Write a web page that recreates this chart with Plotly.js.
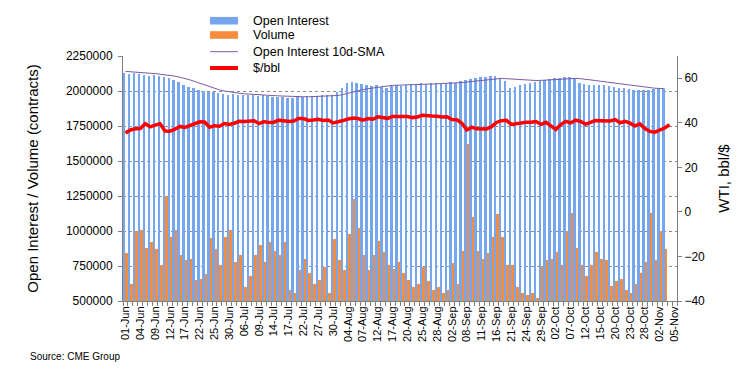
<!DOCTYPE html>
<html>
<head>
<meta charset="utf-8">
<script src="https://cdn.plot.ly/plotly-3.0.1.min.js"></script>
<style>
html,body{margin:0;padding:0;background:#fff;}
#chart{width:755px;height:375px;}
</style>
</head>
<body>
<div id="chart"></div>
<script>
// Category labels (trading days)
var dates = [
 "01-Jun","02-Jun","03-Jun","04-Jun","05-Jun","08-Jun","09-Jun","10-Jun","11-Jun","12-Jun","15-Jun","16-Jun","17-Jun","18-Jun","19-Jun","22-Jun","23-Jun","24-Jun","25-Jun","26-Jun","29-Jun","30-Jun",
 "01-Jul","02-Jul","06-Jul","07-Jul","08-Jul","09-Jul","10-Jul","13-Jul","14-Jul","15-Jul","16-Jul","17-Jul","20-Jul","21-Jul","22-Jul","23-Jul","24-Jul","27-Jul","28-Jul","29-Jul","30-Jul","31-Jul",
 "03-Aug","04-Aug","05-Aug","06-Aug","07-Aug","10-Aug","11-Aug","12-Aug","13-Aug","14-Aug","17-Aug","18-Aug","19-Aug","20-Aug","21-Aug","24-Aug","25-Aug","26-Aug","27-Aug","28-Aug","31-Aug",
 "01-Sep","02-Sep","03-Sep","04-Sep","08-Sep","09-Sep","10-Sep","11-Sep","14-Sep","15-Sep","16-Sep","17-Sep","18-Sep","21-Sep","22-Sep","23-Sep","24-Sep","25-Sep","28-Sep","29-Sep","30-Sep",
 "01-Oct","02-Oct","05-Oct","06-Oct","07-Oct","08-Oct","09-Oct","12-Oct","13-Oct","14-Oct","15-Oct","16-Oct","19-Oct","20-Oct","21-Oct","22-Oct","23-Oct","26-Oct","27-Oct","28-Oct","29-Oct","30-Oct",
 "02-Nov","03-Nov","04-Nov","05-Nov"
];

// Open interest (contracts)
var openInterest = [
 2130000,2125000,2128000,2120000,2115000,2110000,2112000,2105000,2100000,2095000,2080000,2065000,2040000,2030000,2020000,2005000,2000000,1995000,1990000,1985000,1980000,1975000,
 1980000,1975000,1970000,1968000,1972000,1965000,1970000,1962000,1958000,1955000,1960000,1952000,1950000,1955000,1958000,1962000,1960000,1965000,1970000,1968000,1975000,1990000,
 2020000,2055000,2062000,2058000,2048000,2042000,2035000,2040000,2030000,2025000,2038000,2040000,2035000,2045000,2050000,2048000,2055000,2050000,2060000,2058000,2052000,
 2060000,2062000,2058000,2070000,2080000,2085000,2090000,2098000,2102000,2108000,2104000,2092000,2070000,2022000,2030000,2040000,2050000,2060000,2065000,2075000,2080000,
 2085000,2090000,2095000,2098000,2100000,2090000,2055000,2048000,2045000,2040000,2045000,2040000,2035000,2030000,2025000,2020000,2015000,2010000,2008000,2005000,2010000,2015000,
 2020000,2015000
];

// Volume (contracts)
var volume = [
 840000,620000,1000000,1010000,880000,920000,870000,760000,1250000,960000,1010000,830000,790000,800000,650000,660000,690000,950000,870000,760000,960000,1010000,
 780000,830000,600000,680000,830000,900000,780000,920000,860000,830000,920000,580000,560000,720000,800000,700000,620000,650000,740000,560000,940000,790000,
 720000,980000,1230000,1020000,830000,720000,830000,930000,850000,760000,730000,780000,700000,650000,600000,620000,740000,640000,580000,600000,560000,
 580000,770000,620000,860000,1620000,1100000,860000,800000,840000,960000,1120000,960000,760000,760000,600000,560000,540000,560000,520000,750000,790000,
 800000,850000,760000,1000000,1130000,880000,760000,680000,760000,850000,800000,790000,610000,640000,660000,580000,560000,620000,700000,780000,1130000,790000,
 1000000,870000
];

// Open interest 10-day simple moving average (contracts)
var oiSMA = [
 2140000,2138000,2136000,2133000,2130000,2127000,2124000,2120000,2116000,2112000,2106000,2098000,2090000,2080000,2068000,2055000,2042000,2030000,2018000,2008000,2000000,1993000,
 1988000,1984000,1980000,1977000,1975000,1973000,1971000,1969000,1967000,1965000,1963000,1961000,1960000,1959000,1959000,1959000,1960000,1961000,1962000,1963000,1965000,1968000,
 1975000,1985000,1995000,2003000,2010000,2016000,2022000,2028000,2032000,2036000,2040000,2042000,2044000,2045000,2046000,2047000,2048000,2049000,2050000,2051000,2052000,
 2053000,2055000,2057000,2060000,2064000,2068000,2072000,2076000,2080000,2084000,2088000,2090000,2088000,2085000,2082000,2080000,2078000,2076000,2075000,2076000,2078000,
 2080000,2083000,2086000,2088000,2090000,2090000,2088000,2085000,2080000,2075000,2070000,2065000,2060000,2055000,2050000,2045000,2040000,2035000,2030000,2026000,2022000,2020000,
 2018000,2016000
];

// WTI price, $/bbl
var wti = [
 35.44,36.81,37.29,37.41,39.55,38.19,38.94,39.60,36.34,36.26,37.12,38.38,37.96,38.84,39.75,40.46,40.37,38.01,38.72,38.49,39.70,39.27,
 39.82,40.65,40.63,40.62,40.90,39.62,40.55,40.10,40.29,41.20,40.75,40.59,40.81,41.96,41.90,41.07,41.29,41.60,41.04,41.27,39.92,40.27,
 41.01,41.70,42.19,41.95,41.22,41.94,41.61,42.67,42.24,42.01,42.89,42.89,42.93,42.82,42.34,42.62,43.35,43.39,43.04,42.97,42.61,
 42.76,41.51,41.37,39.77,36.76,38.05,37.30,37.33,37.26,38.28,40.16,40.97,41.11,39.31,39.80,39.93,40.31,40.25,40.60,39.29,40.22,
 38.72,37.05,39.22,40.67,39.95,41.19,40.60,39.43,40.20,41.04,40.96,40.88,40.83,41.46,40.03,40.64,39.85,38.56,39.57,37.39,36.17,35.79,
 36.81,37.66,39.15
];

var seriesNames = ["Open Interest","Volume","Open Interest 10d-SMA","$/bbl"];
var seriesColors = ["#76a6ed","#f68c3c","#7b5aa6","#ff0000"];
var leftTicks = [500000,750000,1000000,1250000,1500000,1750000,2000000,2250000];
var rightTicks = [-40,-20,0,20,40,60];

var idx = dates.map(function(d,i){return i;});
var tickIdx = idx.filter(function(i){return i % 3 === 0;});
var tickTxt = tickIdx.map(function(i){return dates[i];});

var FONT = "Liberation Sans, Arial, Helvetica, sans-serif";

var traces = [
 {type:"bar", name:seriesNames[0], x:idx.slice(0, openInterest.length), y:openInterest,
  marker:{color:seriesColors[0], line:{width:0}}, yaxis:"y", showlegend:false},
 {type:"bar", name:seriesNames[1], x:idx.slice(0, volume.length), y:volume,
  marker:{color:seriesColors[1], line:{width:0}}, yaxis:"y", showlegend:false},
 {type:"scatter", mode:"lines", name:seriesNames[2], x:idx.slice(0, oiSMA.length), y:oiSMA,
  line:{color:seriesColors[2], width:1}, yaxis:"y", showlegend:false},
 {type:"scatter", mode:"lines", name:seriesNames[3], x:idx.slice(0, wti.length), y:wti,
  line:{color:seriesColors[3], width:3.5}, yaxis:"y2", showlegend:false}
];

// Legend box (drawn as layout shapes + annotations, in paper coordinates)
var legX0 = 0.157, legX1 = 0.2076, legTextX = 0.231;
var legRowsY = [1.144, 1.0857, 1.0176, 0.951];
var shapes = [
 {type:"rect", xref:"paper", yref:"paper", x0:0.1444, x1:0.491, y0:0.918, y1:1.2,
  fillcolor:"#ffffff", line:{width:0}, layer:"above"},
 {type:"rect", xref:"paper", yref:"paper", x0:legX0, x1:legX1, y0:legRowsY[0]-0.0155, y1:legRowsY[0]+0.0155,
  fillcolor:seriesColors[0], line:{width:0}, layer:"above"},
 {type:"rect", xref:"paper", yref:"paper", x0:legX0, x1:legX1, y0:legRowsY[1]-0.0155, y1:legRowsY[1]+0.0155,
  fillcolor:seriesColors[1], line:{width:0}, layer:"above"},
 {type:"line", xref:"paper", yref:"paper", x0:legX0, x1:legX1, y0:legRowsY[2], y1:legRowsY[2],
  line:{color:seriesColors[2], width:1}, layer:"above"},
 {type:"line", xref:"paper", yref:"paper", x0:legX0, x1:legX1, y0:legRowsY[3], y1:legRowsY[3],
  line:{color:seriesColors[3], width:4}, layer:"above"}
];
var annotations = seriesNames.map(function(n,i){
 return {text:n, xref:"paper", yref:"paper", x:legTextX, y:legRowsY[i], xanchor:"left", yanchor:"middle",
   showarrow:false, font:{family:FONT, size:12.5, color:"#000"}};
});
annotations.push({text:"Source: CME Group", xref:"paper", yref:"paper", x:-0.1715, y:-0.2245,
   xanchor:"left", yanchor:"middle", showarrow:false, font:{family:FONT, size:10, color:"#000"}});

var layout = {
 width:755, height:375,
 margin:{l:123, r:78, t:56, b:74, pad:0},
 paper_bgcolor:"#ffffff", plot_bgcolor:"#ffffff",
 font:{family:FONT, color:"#000", size:12},
 barmode:"group", bargap:0, bargroupgap:0,
 showlegend:false,
 xaxis:{range:[-0.5, dates.length-0.5], tickmode:"array", tickvals:tickIdx, ticktext:tickTxt,
   tickangle:-90, tickfont:{family:FONT, size:11}, ticks:"", showgrid:false, zeroline:false,
   showline:true, linecolor:"#7f7f7f", linewidth:1,
   minor:{tick0:-0.5, dtick:1, ticks:"outside", ticklen:4, tickcolor:"#7f7f7f", showgrid:false}},
 yaxis:{range:[500000,2250000], tickmode:"array", tickvals:leftTicks, ticktext:leftTicks.map(String),
   ticks:"outside", ticklen:4, tickcolor:"#7f7f7f", tickfont:{family:FONT, size:12}, ticklabelstandoff:3,
   showline:true, linecolor:"#7f7f7f", linewidth:1, zeroline:false,
   showgrid:true, gridcolor:"#8c8c8c", griddash:"dot", gridwidth:1,
   title:{text:"Open Interest / Volume (contracts)", font:{family:FONT, size:15}, standoff:23}},
 yaxis2:{range:[-40,70], overlaying:"y", side:"right", tickmode:"array", tickvals:rightTicks,
   ticks:"outside", ticklen:4, tickcolor:"#7f7f7f", tickfont:{family:FONT, size:12},
   showline:true, linecolor:"#7f7f7f", linewidth:1, zeroline:false, showgrid:false,
   title:{text:"WTI, bbl/$", font:{family:FONT, size:15}, standoff:14}},
 shapes:shapes,
 annotations:annotations
};

Plotly.newPlot("chart", traces, layout, {staticPlot:true, displayModeBar:false});
</script>
</body>
</html>
